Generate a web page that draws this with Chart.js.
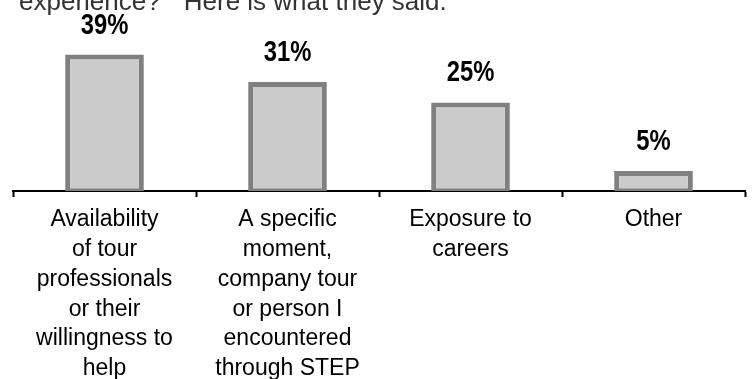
<!DOCTYPE html>
<html>
<head>
<meta charset="utf-8">
<script src="https://cdn.jsdelivr.net/npm/chart.js"></script>
<style>
  html, body { margin: 0; padding: 0; background: #fff; }
  #wrap { position: relative; width: 752px; height: 379px; }
</style>
</head>
<body>
<div id="wrap"><canvas id="myChart" width="752" height="379"></canvas></div>

<script>
    // Datos de la encuesta
    var categories = [
        ['Availability', 'of tour', 'professionals', 'or their', 'willingness to', 'help'],
        ['A specific', 'moment,', 'company tour', 'or person I', 'encountered', 'through STEP'],
        ['Exposure to', 'careers'],
        ['Other']
    ];
    var values = [39, 31, 25, 5];
    var headerText = 'experience?\u201D  Here is what they said.';

    // Texto de cabecera (cortado arriba) y porcentajes encima de cada barra
    var textPlugin = {
        id: 'textPlugin',
        afterDatasetsDraw: function(chart) {
            var ctx = chart.ctx;
            var meta = chart.getDatasetMeta(0);
            ctx.save();
            ctx.fillStyle = '#000';
            ctx.font = 'bold 29px "Liberation Sans", Arial, sans-serif';
            ctx.textAlign = 'center';
            ctx.textBaseline = 'alphabetic';
            meta.data.forEach(function(bar, i) {
                ctx.save();
                ctx.translate(bar.x, bar.y - 21);
                ctx.scale(0.82, 1);
                ctx.fillText(values[i] + '%', 0, 0);
                ctx.restore();
            });
            ctx.restore();
        },
        afterDraw: function(chart) {
            var ctx = chart.ctx;
            ctx.save();
            ctx.fillStyle = '#333';
            ctx.font = '26px "Liberation Sans", Arial, sans-serif';
            ctx.textAlign = 'left';
            ctx.textBaseline = 'alphabetic';
            ctx.fillText(headerText, 19, 10);
            ctx.restore();
        }
    };

    var ctx = document.getElementById('myChart').getContext('2d');
    var myChart = new Chart(ctx, {
        type: 'bar',
        data: {
            labels: categories,
            datasets: [{
                data: values,
                base: -1.5,
                backgroundColor: '#cbcbcb',
                borderColor: '#808080',
                borderWidth: 5,
                borderSkipped: false,
                categoryPercentage: 1,
                barPercentage: 0.43
            }]
        },
        plugins: [textPlugin],
        options: {
            responsive: false,
            animation: false,
            layout: { padding: { left: 13, right: 7, top: 34, bottom: 0 } },
            plugins: {
                legend: { display: false },
                tooltip: { enabled: false }
            },
            scales: {
                x: {
                    z: 1,
                    offset: true,
                    grid: {
                        offset: true,
                        drawOnChartArea: false,
                        drawTicks: true,
                        tickLength: 6,
                        tickWidth: 2,
                        tickColor: '#000'
                    },
                    border: { display: true, color: '#000', width: 2 },
                    ticks: {
                        color: '#000',
                        padding: 8,
                        autoSkip: false,
                        maxRotation: 0,
                        font: { family: '"Liberation Sans", Arial, sans-serif', size: 23, lineHeight: 1.296 }
                    },
                    afterFit: function(scale) { scale.height = 188; }
                },
                y: {
                    display: false,
                    min: -0.875,
                    max: 45
                }
            }
        }
    });
</script>
</body>
</html>
